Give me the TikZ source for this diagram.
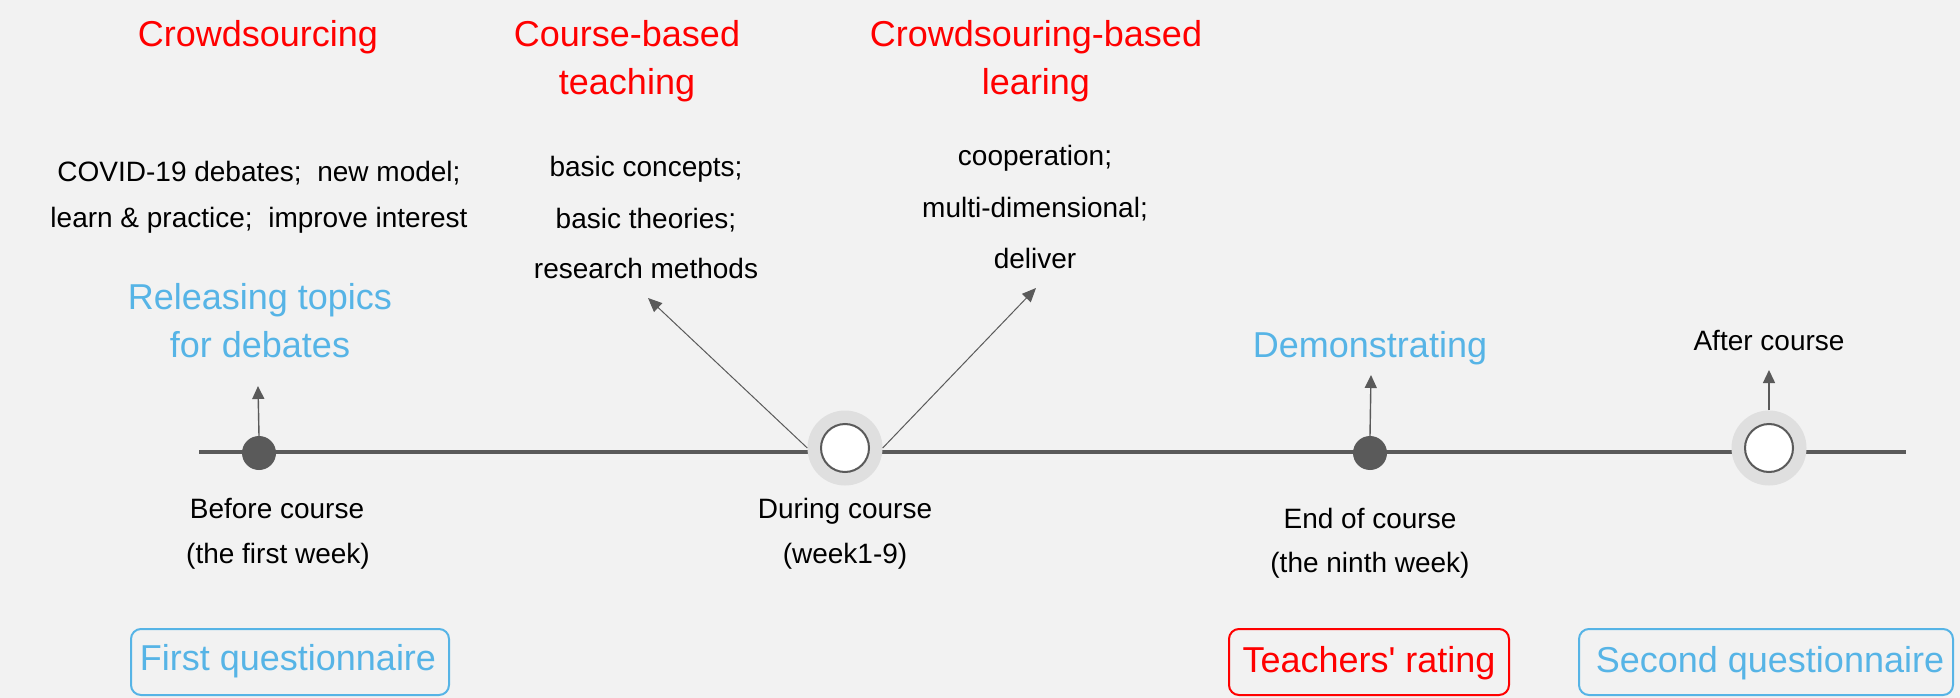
\documentclass[tikz,border=0pt]{standalone}
\usepackage{fontspec}
\setmainfont{Liberation Sans}[Ligatures=TeXOff]
\usetikzlibrary{arrows.meta}
\definecolor{bg}{HTML}{F2F2F2}
\definecolor{lineg}{HTML}{5A5A5A}
\definecolor{ringg}{HTML}{DFDFDF}
\definecolor{myblue}{HTML}{56B4E6}
\definecolor{myred}{HTML}{FF0000}
\tikzset{
  big/.style={font=\fontsize{36}{43}\selectfont, inner sep=0pt, anchor=base},
  small/.style={font=\fontsize{28}{34}\selectfont, inner sep=0pt, anchor=base, text=black},
  title/.style={big, text=myred},
  bluetxt/.style={big, text=myblue},
  dot/.style={circle, fill=lineg, minimum size=34pt, inner sep=0pt},
  ring/.style={circle, fill=ringg, minimum size=75pt, inner sep=0pt},
  hole/.style={circle, fill=white, draw=lineg, line width=2pt, minimum size=48pt, inner sep=0pt},
  arr/.style={draw=lineg, line width=1.4pt, -{Triangle[length=13pt,width=12pt]}},
  thinarr/.style={draw=lineg, line width=1pt, -{Triangle[length=14pt,width=12pt]}},
  boxb/.style={draw=myblue, line width=2pt, rounded corners=10pt},
  boxr/.style={draw=myred, line width=2pt, rounded corners=10pt},
}
\begin{document}
\begin{tikzpicture}[x=1pt,y=-1pt]
\fill[bg] (0,0) rectangle (1960,698);
\useasboundingbox (0,0) rectangle (1960,698);

% timeline
\coordinate (tl) at (199,452);
\coordinate (tr) at (1906,452);
\draw[lineg, line width=4.5pt] (tl) -- (tr);

% markers
\node[dot] (d1) at (259,453) {};
\node[ring] (r2) at (845,448) {};
\node[hole] (h2) at (845,448) {};
\node[dot] (d3) at (1370,453) {};
\node[ring] (r4) at (1769,448) {};
\node[hole] (h4) at (1769,448) {};

% arrow ends
\coordinate (a1) at (258,386);
\coordinate (a2l) at (648,298);
\coordinate (a2r) at (1036,288);
\coordinate (a3) at (1371,375);
\coordinate (a4) at (1769,370);
\draw[arr] (d1.north) -- (a1);
\draw[thinarr] (r2.west) -- (a2l);
\draw[thinarr] (r2.east) -- (a2r);
\draw[arr] (d3.north) -- (a3);
\draw[arr] (r4.north) -- (a4);

% red titles
\node[title] (t1) at (258,47) {Crowdsourcing};
\node[title] (t2a) at (627,47) {Course-based};
\node[title] (t2b) at (627,95) {teaching};
\node[title] (t3a) at (1036,47) {Crowdsouring-based};
\node[title] (t3b) at (1036,95) {learing};

% black descriptions
\node[small] (c1a) at (259,182) {COVID-19 debates;~ new model;};
\node[small] (c1b) at (259,227) {learn \& practice;~ improve interest};
\node[small] (c2a) at (646,176) {basic concepts;};
\node[small] (c2b) at (646,228) {basic theories;};
\node[small] (c2c) at (646,278) {research methods};
\node[small] (c3a) at (1035,166) {cooperation;};
\node[small] (c3b) at (1035,217) {multi-dimensional;};
\node[small] (c3c) at (1035,268) {deliver};

% blue labels
\node[bluetxt] (b1a) at (260,309) {Releasing topics};
\node[bluetxt] (b1b) at (260,357) {for debates};
\node[bluetxt] (b3) at (1370,357) {Demonstrating};
\node[small] (b4) at (1769,350) {After course};

% time labels
\node[small] (l1a) at (277,518) {Before course};
\node[small] (l1b) at (278,563) {(the first week)};
\node[small] (l2a) at (845,518) {During course};
\node[small] (l2b) at (845,563) {(week1-9)};
\node[small] (l3a) at (1370,528) {End of course};
\node[small] (l3b) at (1370,572) {(the ninth week)};

% boxes
\draw[boxb] (131,629) rectangle (449,695);
\node[bluetxt] (q1) at (288,670) {First questionnaire};
\draw[boxr] (1229,629) rectangle (1509,695);
\node[title] (q2) at (1369,672) {Teachers' rating};
\draw[boxb] (1579,629) rectangle (1953,695);
\node[bluetxt] (q3) at (1770,672) {Second questionnaire};
\end{tikzpicture}
\end{document}
